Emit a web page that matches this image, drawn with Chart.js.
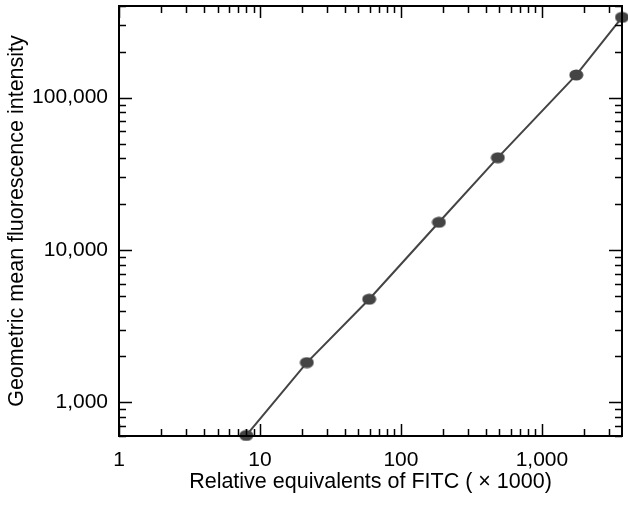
<!DOCTYPE html>
<html>
<head>
    <title>FITC calibration</title>
    <style>
        body { margin: 0; background: #fff; }
        #wrap { width: 628px; height: 505px; }
    </style>
</head>
<body>
<div id="wrap">
    <canvas id="fitcChart"></canvas>
</div>

<script src="https://cdn.jsdelivr.net/npm/chart.js"></script>
<script>
    // values
    const fitcEquivalents = [8, 21.5, 59.5, 186, 487, 1754, 3700];
    const meanIntensity = [605, 1820, 4745, 15200, 40350, 141000, 337000];
    const xRange = [1, 3700];
    const yRange = [600, 400000];
    const xTickLabels = [1, 10, 100, 1000];
    const yTickLabels = [1000, 10000, 100000];

    const ink = '#444444';

    // slightly flattened dot like the original
    const dot = document.createElement('canvas');
    dot.width = 15;
    dot.height = 12;
    const dctx = dot.getContext('2d');
    dctx.fillStyle = ink;
    dctx.beginPath();
    dctx.ellipse(7.5, 6, 7, 5.5, 0, 0, Math.PI * 2);
    dctx.fill();

    function logTicks(min, max) {
        const out = [];
        for (let p = Math.floor(Math.log10(min)); p <= Math.ceil(Math.log10(max)); p++) {
            for (let m = 1; m < 10; m++) {
                const v = m * Math.pow(10, p);
                if (v >= min - 1e-9 && v <= max + 1e-9) out.push({value: v});
            }
        }
        return out;
    }

    function isMajor(v) {
        const l = Math.log10(v);
        return Math.abs(l - Math.round(l)) < 1e-9;
    }

    // no extra room for half labels at the ends
    function noPad(s) {
        s.paddingTop = 0;
        s.paddingBottom = 0;
        s.paddingLeft = 0;
        s.paddingRight = 0;
    }

    // frame and inward tick marks on all four sides
    const frameTicks = {
        id: 'frameTicks',
        afterDraw(chart) {
            const {ctx, chartArea: a, scales: {x, y}} = chart;
            ctx.save();
            ctx.strokeStyle = '#000';
            ctx.lineWidth = 1.5;
            x.ticks.forEach(t => {
                const px = Math.round(x.getPixelForValue(t.value)) + 0.5;
                const len = isMajor(t.value) ? 12 : 7;
                ctx.beginPath();
                ctx.moveTo(px, a.bottom); ctx.lineTo(px, a.bottom - len);
                ctx.moveTo(px, a.top); ctx.lineTo(px, a.top + len);
                ctx.stroke();
            });
            y.ticks.forEach(t => {
                const py = Math.round(y.getPixelForValue(t.value)) + 0.5;
                const len = isMajor(t.value) ? 13 : 7;
                ctx.beginPath();
                ctx.moveTo(a.left, py); ctx.lineTo(a.left + len, py);
                ctx.moveTo(a.right, py); ctx.lineTo(a.right - len, py);
                ctx.stroke();
            });
            ctx.lineWidth = 2;
            ctx.strokeRect(a.left, a.top, a.right - a.left, a.bottom - a.top);
            ctx.restore();
        }
    };

    const tickFont = {family: "'Liberation Sans', Arial, sans-serif", size: 21};
    const titleFont = {family: "'Liberation Sans', Arial, sans-serif", size: 21.5};

    const chart = new Chart(document.getElementById('fitcChart'), {
        type: 'scatter',
        data: {
            datasets: [{
                data: fitcEquivalents.map((v, i) => ({x: v, y: meanIntensity[i]})),
                showLine: true,
                borderColor: ink,
                borderWidth: 2,
                pointStyle: dot,
                pointRadius: 1,
                clip: false,
            }]
        },
        options: {
            responsive: true,
            maintainAspectRatio: false,
            animation: false,
            layout: {padding: {left: 0, top: 5, right: 5, bottom: 0}},
            plugins: {legend: {display: false}, tooltip: {enabled: false}},
            scales: {
                x: {
                    type: 'logarithmic',
                    min: xRange[0],
                    max: xRange[1],
                    afterBuildTicks: s => { s.ticks = logTicks(xRange[0], xRange[1]); },
                    afterFit: s => { s.height = 69; noPad(s); },
                    grid: {display: false, drawTicks: false, tickLength: 0},
                    border: {display: false},
                    ticks: {
                        autoSkip: false,
                        maxRotation: 0,
                        padding: 12,
                        color: '#000',
                        font: tickFont,
                        callback: v => xTickLabels.includes(v) ? v.toLocaleString('en-US') : ''
                    },
                    title: {
                        display: true,
                        text: 'Relative equivalents of FITC ( \u00d7 1000)',
                        color: '#000',
                        font: titleFont,
                        padding: {top: 0, bottom: 10}
                    }
                },
                y: {
                    type: 'logarithmic',
                    min: yRange[0],
                    max: yRange[1],
                    afterBuildTicks: s => { s.ticks = logTicks(yRange[0], yRange[1]); },
                    afterFit: s => { s.width = 119; noPad(s); },
                    grid: {display: false, drawTicks: false, tickLength: 0},
                    border: {display: false},
                    ticks: {
                        autoSkip: false,
                        padding: 11,
                        color: '#000',
                        font: tickFont,
                        callback: v => yTickLabels.includes(v) ? v.toLocaleString('en-US') : ''
                    },
                    title: {
                        display: true,
                        text: 'Geometric mean fluorescence intensity',
                        color: '#000',
                        font: titleFont,
                        padding: {top: 4, bottom: 0}
                    }
                }
            }
        },
        plugins: [frameTicks]
    });
</script>
</body>
</html>
